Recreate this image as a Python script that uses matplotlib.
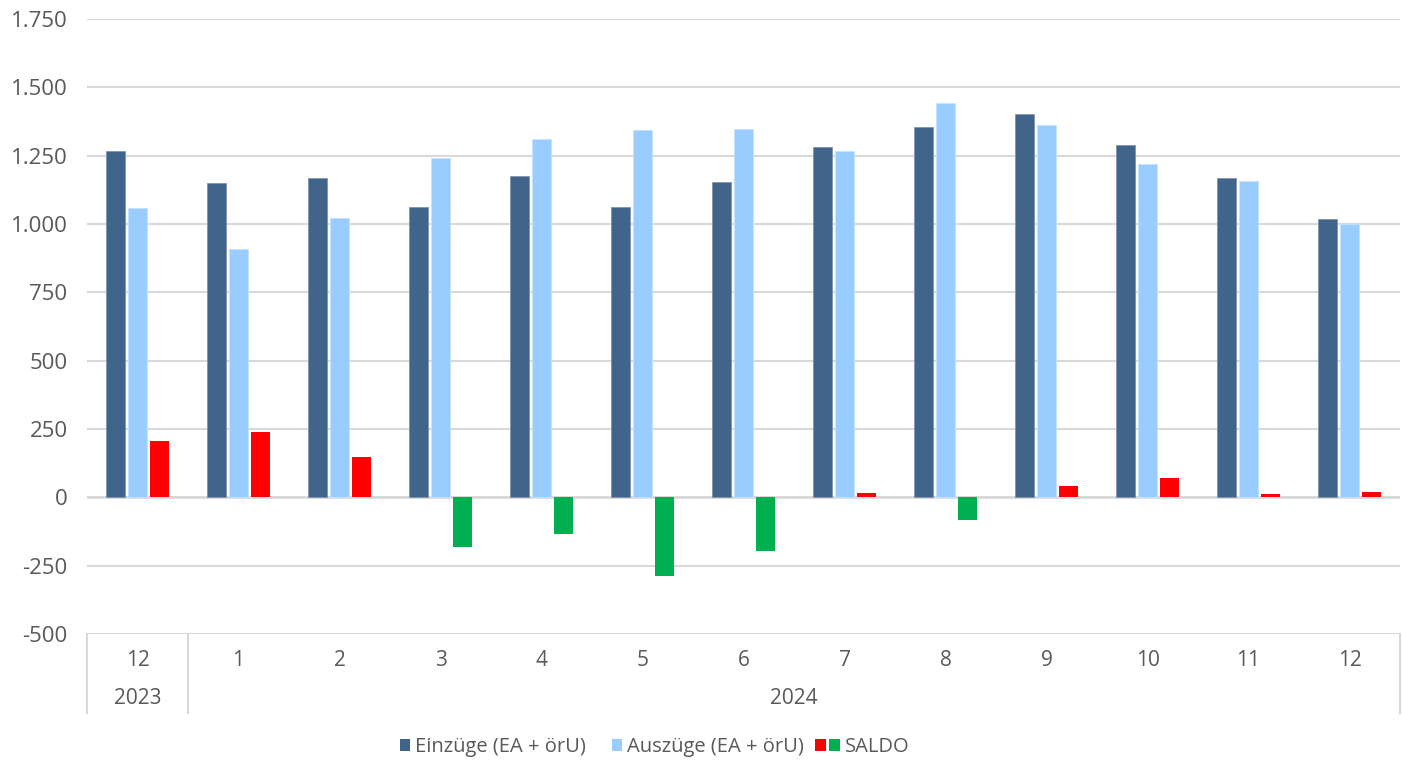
import numpy as np
import matplotlib.pyplot as plt
from matplotlib.patches import Patch, Rectangle
from matplotlib.legend_handler import HandlerBase
from matplotlib.ticker import FuncFormatter
import matplotlib.transforms as mtransforms

plt.rcParams["font.family"] = ["Open Sans", "DejaVu Sans"]

# Daten
months = ["12", "1", "2", "3", "4", "5", "6", "7", "8", "9", "10", "11", "12"]
years = ["2023", "2024"]
year_spans = [(0, 1), (1, 13)]   # Monatsindex [start, ende) je Jahr
einzuege = [1267, 1150, 1168, 1062, 1175, 1062, 1153, 1282, 1355, 1402, 1289, 1168, 1018]
auszuege = [1058, 908, 1022, 1241, 1311, 1344, 1347, 1267, 1443, 1362, 1219, 1157, 1000]
saldo = [205, 240, 147, -182, -135, -286, -198, 15, -84, 40, 70, 11, 18]

c_ein = "#41658A"
c_aus = "#99CCFF"
c_pos = "#FF0000"
c_neg = "#00B050"
c_text = "#595959"
c_grid = "#D9D9D9"


class HandlerTwoSquares(HandlerBase):
    # rotes + gruenes Quadrat fuer SALDO
    def create_artists(self, legend, orig_handle, xdescent, ydescent,
                       width, height, fontsize, trans):
        s = height
        gap = 0.2 * s
        r1 = Rectangle((-xdescent + width - 2 * s - gap, -ydescent), s, s,
                       facecolor=c_pos, edgecolor="none", transform=trans)
        r2 = Rectangle((-xdescent + width - s, -ydescent), s, s,
                       facecolor=c_neg, edgecolor="none", transform=trans)
        return [r1, r2]


W, H = 1402, 762
fig = plt.figure(figsize=(W / 100, H / 100), dpi=100)
ax = fig.add_axes([87 / W, 1 - 634 / H, (1400 - 87) / W, (634 - 19) / H])

x = np.arange(len(months))
bw = 0.18
step = 0.218
ax.bar(x - step, einzuege, width=bw, color=c_ein, edgecolor="#7F95AD", linewidth=0.6, zorder=3)
ax.bar(x, auszuege, width=bw, color=c_aus, edgecolor="#C5E2FF", linewidth=0.6, zorder=3)
saldo_colors = [c_pos if v >= 0 else c_neg for v in saldo]
ax.bar(x + step, saldo, width=bw, color=saldo_colors, linewidth=0, zorder=3)

ax.set_xlim(-0.5, len(months) - 0.5)
ax.set_ylim(-500, 1750)
ax.set_yticks(np.arange(-500, 1751, 250))
ax.yaxis.set_major_formatter(FuncFormatter(lambda v, p: f"{int(v):,}".replace(",", ".")))
ax.grid(axis="y", color=c_grid, linewidth=1.5, zorder=0)
ax.axhline(0, color=c_grid, linewidth=2, zorder=2)
for s in ax.spines.values():
    s.set_visible(False)
ax.tick_params(axis="y", length=0, labelsize=16, labelcolor=c_text, pad=14)
ax.set_xticks([])

# zweistufige Kategorienachse
trans = mtransforms.blended_transform_factory(ax.transData, fig.transFigure)
y_month = 1 - 660 / H
y_year = 1 - 699 / H
y_top = 1 - 634 / H
y_bot = 1 - 713 / H
for i, m in enumerate(months):
    ax.text(i, y_month, m, transform=trans, ha="center", va="center",
            fontsize=15, color=c_text)
for yr, (a, b) in zip(years, year_spans):
    ax.text((a + b - 1) / 2, y_year, yr, transform=trans, ha="center", va="center",
            fontsize=15, color=c_text)
seps = [-0.5] + [b - 0.5 for a, b in year_spans]
for sx in seps:
    ax.plot([sx, sx], [y_top, y_bot], transform=trans, color=c_grid,
            linewidth=1.5, clip_on=False)

# Legende
h_ein = Patch(facecolor=c_ein)
h_aus = Patch(facecolor=c_aus)
h_sal = Patch(facecolor=c_pos)
fig.legend([h_ein, h_aus, h_sal],
           ["Einzüge (EA + örU)", "Auszüge (EA + örU)", "SALDO"],
           handler_map={h_sal: HandlerTwoSquares()},
           loc="center", bbox_to_anchor=(0.467, 1 - 747 / H), ncol=3,
           frameon=False, fontsize=14.5, labelcolor=c_text,
           handlelength=0.5, handleheight=0.5, handletextpad=0.25,
           columnspacing=1.3)

fig.savefig("out.png", dpi=100)
